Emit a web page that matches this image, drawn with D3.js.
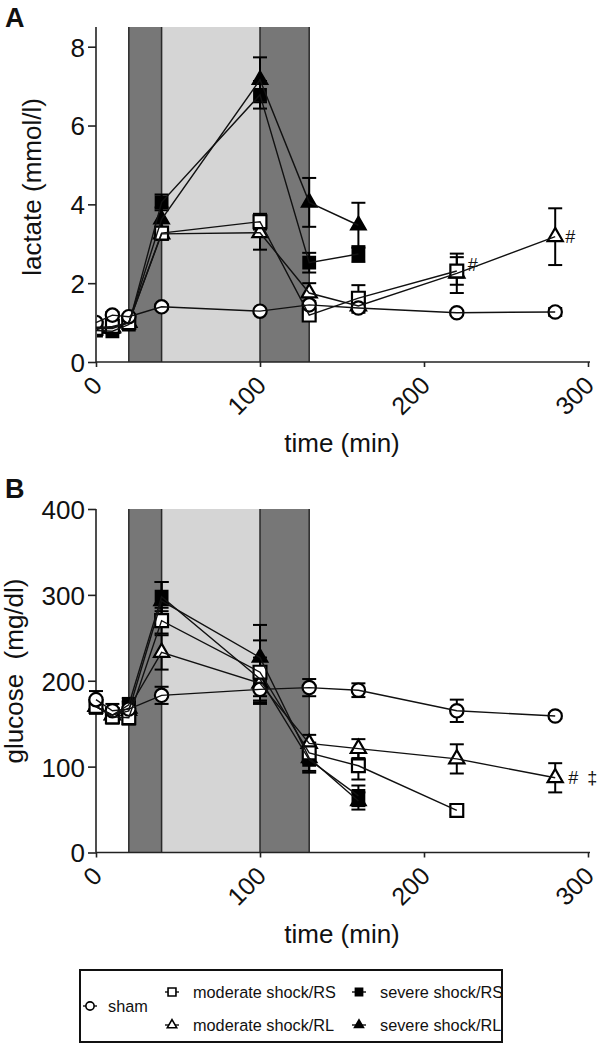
<!DOCTYPE html>
<html><head><meta charset="utf-8">
<script src="https://cdn.jsdelivr.net/npm/d3@7"></script>
<style>
body{margin:0;background:#fff}
svg{display:block}
text{font-family:"Liberation Sans",Arial,Helvetica,sans-serif;fill:#111}
</style>
</head><body>
<svg id="c" width="600" height="1044"></svg>
<script>
// ---------- DATA ----------
const times = [0, 10, 20, 40, 100, 130, 160, 220, 280];
const xTicks = [0, 100, 200, 300];
const lactateTicks = [0, 2, 4, 6, 8];
const glucoseTicks = [0, 100, 200, 300, 400];
const phaseBands = [[20, 40, "dark"], [40, 100, "light"], [100, 130, "dark"]];
const phaseLines = [20, 40, 100, 130];
const seriesNames = ["sham", "moderate shock/RS", "moderate shock/RL", "severe shock/RS", "severe shock/RL"];

// lactate (mmol/l) mean and SEM
const lactateSham    = [1.00, 1.19, 1.15, 1.40, 1.29, 1.45, 1.37, 1.25, 1.27];
const lactateShamSem = [0.05, 0.08, 0.05, 0.06, 0.05, 0.10, 0.12, 0.05, 0.10];
const lactateModRS    = [0.85, 0.90, 1.00, 3.27, 3.56, 1.19, 1.62, 2.31, null];
const lactateModRSSem = [0.05, 0.05, 0.05, 0.10, 0.20, 0.08, 0.33, 0.35, null];
const lactateModRL    = [0.88, 0.88, 1.00, 3.25, 3.28, 1.75, 1.42, 2.25, 3.18];
const lactateModRLSem = [0.05, 0.05, 0.05, 0.15, 0.43, 0.25, 0.10, 0.50, 0.72];
const lactateSevRS    = [0.80, 0.78, 0.95, 4.05, 6.78, 2.52, 2.74, null, null];
const lactateSevRSSem = [0.05, 0.05, 0.05, 0.20, 0.35, 0.25, 0.20, null, null];
const lactateSevRL    = [0.85, 0.85, 1.00, 3.62, 7.16, 4.05, 3.47, null, null];
const lactateSevRLSem = [0.05, 0.05, 0.05, 0.30, 0.57, 0.62, 0.57, null, null];

// glucose (mg/dl) mean and SEM
const glucoseSham    = [178, 165, 167, 183, 190, 192, 189, 165, 159];
const glucoseShamSem = [10, 8, 8, 10, 15, 10, 8, 13, 3];
const glucoseModRS    = [170, 158, 157, 270, 210, 116, 101, 49, null];
const glucoseModRSSem = [8, 8, 8, 15, 37, 12, 16, 5, null];
const glucoseModRL    = [170, 160, 168, 233, 197, 127, 121, 109, 87];
const glucoseModRLSem = [8, 8, 8, 20, 15, 10, 11, 17, 17];
const glucoseSevRS    = [170, 160, 172, 298, 202, 108, 66, null, null];
const glucoseSevRSSem = [8, 8, 8, 17, 25, 15, 12, null, null];
const glucoseSevRL    = [170, 160, 165, 293, 227, 110, 60, null, null];
const glucoseSevRLSem = [8, 8, 8, 22, 38, 15, 10, null, null];

// ---------- DRAW ----------
const svg = d3.select("#c");
const markerTypes = {
  "sham": {sym: d3.symbolCircle, size: 140, fill: "#fff"},
  "moderate shock/RS": {sym: d3.symbolSquare, size: 165, fill: "#fff"},
  "moderate shock/RL": {sym: d3.symbolTriangle, size: 100, fill: "#fff"},
  "severe shock/RS": {sym: d3.symbolSquare, size: 135, fill: "#000"},
  "severe shock/RL": {sym: d3.symbolTriangle, size: 90, fill: "#000"}
};
const drawOrder = ["severe shock/RL", "severe shock/RS", "moderate shock/RL", "moderate shock/RS", "sham"];

function panel(cfg) {
  const x = d3.scaleLinear().domain([0, 300]).range([96, 588]);
  const y = d3.scaleLinear().domain(cfg.yDomain).range([cfg.bottom, cfg.top]);
  const g = svg.append("g");

  // phase shading
  phaseBands.forEach(b => {
    g.append("rect").attr("x", x(b[0])).attr("width", x(b[1]) - x(b[0]))
      .attr("y", cfg.top).attr("height", cfg.bottom - cfg.top)
      .attr("fill", b[2] === "dark" ? "#777777" : "#d5d5d5");
  });
  phaseLines.forEach(t => {
    g.append("line").attr("x1", x(t)).attr("x2", x(t)).attr("y1", cfg.top).attr("y2", cfg.bottom)
      .attr("stroke", "#2a2a2a").attr("stroke-width", 1.5);
  });

  // axes
  const ya = d3.axisLeft(y).tickValues(cfg.yTicks).tickSize(8).tickPadding(3).tickFormat(d3.format("d"));
  const yg = g.append("g").attr("transform", "translate(96,0)").call(ya);
  yg.select(".domain").attr("d", `M0,${cfg.bottom}V${cfg.top}`).attr("stroke", "#222").attr("stroke-width", 1.6);
  yg.selectAll(".tick line").attr("stroke", "#222").attr("stroke-width", 1.6);
  yg.selectAll(".tick text").attr("font-size", 26).attr("dy", "0.36em").style("font-family", '"Liberation Sans",Arial,sans-serif').attr("fill", "#111");

  const xa = d3.axisBottom(x).tickValues(xTicks).tickSize(5).tickFormat(d3.format("d"));
  const xg = g.append("g").attr("transform", `translate(0,${cfg.bottom})`).call(xa);
  xg.select(".domain").attr("d", "M96,0H590").attr("stroke", "#222").attr("stroke-width", 1.6);
  xg.selectAll(".tick line").attr("stroke", "#222").attr("stroke-width", 1.6);
  xg.selectAll(".tick text").attr("font-size", 25).attr("y", 0).attr("dy", 0)
    .attr("text-anchor", "end").attr("transform", "translate(7,25) rotate(-45)")
    .style("font-family", '"Liberation Sans",Arial,sans-serif').attr("fill", "#111");

  // titles
  g.append("text").attr("x", 342).attr("y", cfg.bottom + 90).attr("text-anchor", "middle")
    .attr("font-size", 26).text("time (min)");
  g.append("text").attr("transform", `translate(${cfg.yLabelX},${cfg.yLabelY}) rotate(-90)`)
    .attr("text-anchor", "middle").attr("font-size", 26).style("white-space", "pre").text(cfg.yLabel);
  g.append("text").attr("x", 5).attr("y", cfg.letterY).attr("font-size", 27).attr("font-weight", "bold").text(cfg.letter);

  // clip for markers
  const clipId = "clip" + cfg.letter;
  svg.append("clipPath").attr("id", clipId).append("rect")
    .attr("x", cfg.clipLeft ? 97 : 0).attr("y", 0).attr("width", 600).attr("height", 1044);
  const dg = g.append("g").attr("clip-path", `url(#${clipId})`);

  const line = d3.line().defined(d => d.v != null).x(d => x(d.t)).y(d => y(d.v));
  const seriesData = name => {
    const s = cfg.series[name];
    return times.map((t, i) => ({t, v: s[0][i], e: s[1][i]})).filter(d => d.v != null);
  };

  // error bars
  drawOrder.forEach(name => {
    seriesData(name).forEach(d => {
      const eg = dg.append("g").attr("stroke", "#000").attr("stroke-width", 2);
      const x0 = x(d.t), y1 = y(d.v + d.e), y2 = y(d.v - d.e);
      eg.append("line").attr("x1", x0).attr("x2", x0).attr("y1", y1).attr("y2", y2);
      eg.append("line").attr("x1", x0 - 7).attr("x2", x0 + 7).attr("y1", y1).attr("y2", y1);
      eg.append("line").attr("x1", x0 - 7).attr("x2", x0 + 7).attr("y1", y2).attr("y2", y2);
    });
  });
  // lines
  drawOrder.forEach(name => {
    g.append("path").datum(seriesData(name)).attr("d", line)
      .attr("fill", "none").attr("stroke", "#111").attr("stroke-width", 1.4);
  });
  // markers
  drawOrder.forEach(name => {
    const m = markerTypes[name];
    dg.selectAll(null).data(seriesData(name)).join("path")
      .attr("d", d3.symbol(m.sym, m.size))
      .attr("transform", d => `translate(${x(d.t)},${y(d.v)})`)
      .attr("fill", m.fill).attr("stroke", "#000").attr("stroke-width", 2.2);
  });

  cfg.notes.forEach(n => {
    g.append("text").attr("x", x(n.t) + n.dx).attr("y", y(n.v) + 6).attr("font-size", 18).text(n.txt);
  });
}

panel({
  letter: "A", letterY: 27, top: 27, bottom: 362, yDomain: [0, 8.5], yTicks: lactateTicks,
  yLabel: "lactate (mmol/l)", yLabelX: 41, yLabelY: 187, clipLeft: true,
  series: {
    "sham": [lactateSham, lactateShamSem],
    "moderate shock/RS": [lactateModRS, lactateModRSSem],
    "moderate shock/RL": [lactateModRL, lactateModRLSem],
    "severe shock/RS": [lactateSevRS, lactateSevRSSem],
    "severe shock/RL": [lactateSevRL, lactateSevRLSem]
  },
  notes: [{t: 220, v: lactateModRS[7] + 0.15, dx: 11, txt: "#"}, {t: 280, v: lactateModRL[8], dx: 10, txt: "#"}]
});
panel({
  letter: "B", letterY: 498, top: 509, bottom: 852.5, yDomain: [0, 400], yTicks: glucoseTicks,
  yLabel: "glucose  (mg/dl)", yLabelX: 23, yLabelY: 671, clipLeft: false,
  series: {
    "sham": [glucoseSham, glucoseShamSem],
    "moderate shock/RS": [glucoseModRS, glucoseModRSSem],
    "moderate shock/RL": [glucoseModRL, glucoseModRLSem],
    "severe shock/RS": [glucoseSevRS, glucoseSevRSSem],
    "severe shock/RL": [glucoseSevRL, glucoseSevRLSem]
  },
  notes: [{t: 280, v: glucoseModRL[8], dx: 13, txt: "#"}, {t: 280, v: glucoseModRL[8], dx: 32, txt: "‡"}]
});

// ---------- LEGEND ----------
const lg = svg.append("g");
lg.append("rect").attr("x", 80).attr("y", 970).attr("width", 422).attr("height", 72)
  .attr("fill", "#fff").attr("stroke", "#111").attr("stroke-width", 2);
const legendPos = {
  "sham": [90, 1006],
  "moderate shock/RS": [172, 992],
  "moderate shock/RL": [172, 1025],
  "severe shock/RS": [359, 992],
  "severe shock/RL": [359, 1025]
};
seriesNames.forEach(name => {
  const [cx, cy] = legendPos[name];
  const m = markerTypes[name];
  lg.append("line").attr("x1", cx - 7).attr("x2", cx + 7).attr("y1", cy).attr("y2", cy)
    .attr("stroke", "#111").attr("stroke-width", 1.4);
  lg.append("path").attr("d", d3.symbol(m.sym, m.size * 0.38))
    .attr("transform", `translate(${cx},${cy})`).attr("fill", m.fill).attr("stroke", "#000").attr("stroke-width", 1.6);
  lg.append("text").attr("x", cx + (name === "sham" ? 18 : 21)).attr("y", cy + 6)
    .attr("font-size", 16.3).text(name);
});
</script>
</body></html>
